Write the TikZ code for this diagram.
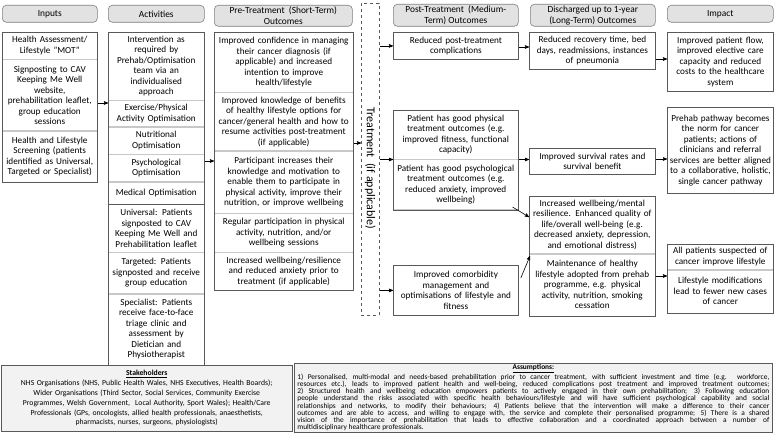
\documentclass[tikz,border=0pt]{standalone}
\usepackage{fontspec}
\setmainfont{Carlito}
\usetikzlibrary{arrows,calc}
\usetikzlibrary{positioning}
\definecolor{framegray}{HTML}{595959}
\definecolor{divgray}{HTML}{C8C8C8}
\definecolor{headfill}{HTML}{E2E2E2}
\definecolor{headline}{HTML}{808080}
\definecolor{notefill}{HTML}{F2F2F2}
\tikzset{
    cell/.style={
           rectangle,
           draw=divgray, line width=0.5pt,
           anchor=north west,
           inner xsep=0.5pt, inner ysep=1pt,
           align=center,
           font=\fontsize{9.2}{10.5}\selectfont,
           },
    box/.style={cell, draw=framegray, line width=0.8pt},
    frame/.style={draw=framegray, line width=0.8pt},
    head/.style={
           rectangle,
           rounded corners=4pt,
           draw=headline, fill=headfill, line width=0.6pt,
           anchor=north west,
           inner sep=1pt,
           align=center,
           font=\fontsize{9.4}{10.5}\selectfont,
           },
    note/.style={
           rectangle,
           draw=framegray, fill=notefill, line width=0.8pt,
           anchor=north west,
           },
    link/.style={->, line width=0.6pt},
    colinp/.style={text width=94pt},
    colact/.style={text width=95pt},
    colpre/.style={text width=138pt},
    colpost/.style={text width=124pt},
    coldis/.style={text width=125pt},
    colimp/.style={text width=105pt},
}

\begin{document}
\begin{tikzpicture}[>=stealth', x=1pt, y=-1pt]
\useasboundingbox (0,0) rectangle (777,433);

% column headings
\node[head, minimum width=95pt, minimum height=17pt] (hinp) at (2,5) {Inputs};
\node[head, minimum width=96pt, minimum height=17pt] (hact) at (108,5) {Activities};
\node[head, minimum width=138pt, minimum height=21pt] (hpre) at (214,5) {Pre-Treatment\ \ (Short-Term)\\Outcomes};
\node[head, minimum width=125pt, minimum height=22pt] (hpost) at (393,4) {Post-Treatment\ \ (Medium-\\Term) Outcomes};
\node[head, minimum width=125pt, minimum height=22pt] (hdis) at (530,4) {Discharged up to 1-year\\(Long-Term) Outcomes};
\node[head, minimum width=106pt, minimum height=17pt] (himp) at (667,5) {Impact};

% inputs
\node[cell, colinp, minimum height=27pt] (inpha) at (2,32) {Health Assessment/\\Lifestyle "MOT"};
\node[cell, colinp, minimum height=71pt, below=0pt of inpha] (inpsign) {Signposting to CAV\\Keeping Me Well\\website,\\prehabilitation leaflet,\\group education\\sessions};
\node[cell, colinp, minimum height=51pt, below=0pt of inpsign] (inpscr) {Health and Lifestyle\\Screening (patients\\identified as Universal,\\Targeted or Specialist)};
\draw[frame] (inpha.north west) rectangle (inpscr.south east);

% activities
\node[cell, colact, minimum height=68pt] (actint) at (108,32) {Intervention as\\required by\\Prehab/Optimisation\\team via an\\individualised\\approach};
\node[cell, colact, minimum height=26pt, below=0pt of actint] (actex) {Exercise/Physical\\Activity Optimisation};
\node[cell, colact, minimum height=27pt, below=0pt of actex] (actnut) {Nutritional\\Optimisation};
\node[cell, colact, minimum height=27pt, below=0pt of actnut] (actpsy) {Psychological\\Optimisation};
\node[cell, colact, minimum height=22pt, below=0pt of actpsy] (actmed) {Medical Optimisation};
\node[cell, colact, minimum height=47pt, below=0pt of actmed] (actuni) {Universal: Patients\\signposted to CAV\\Keeping Me Well and\\Prehabilitation leaflet};
\node[cell, colact, minimum height=41pt, below=0pt of actuni] (acttar) {Targeted: Patients\\signposted and receive\\group education};
\node[cell, colact, minimum height=71pt, below=0pt of acttar] (actspe) {Specialist: Patients\\receive face-to-face\\triage clinic and\\assessment by\\Dietician and\\Physiotherapist};
\draw[frame] (actint.north west) rectangle (actmed.south east);
\draw[frame] (actuni.north west) rectangle (actspe.south east);

% pre-treatment outcomes
\node[cell, colpre, minimum height=60pt] (prconf) at (214,32) {Improved confidence in managing\\their cancer diagnosis (if\\applicable) and increased\\intention to improve\\health/lifestyle};
\node[cell, colpre, minimum height=58pt, below=0pt of prconf] (prknow) {Improved knowledge of benefits\\of healthy lifestyle options for\\cancer/general health and how to\\resume activities post-treatment\\(if applicable)};
\node[cell, colpre, minimum height=62pt, below=0pt of prknow] (prpart) {Participant increases their\\knowledge and motivation to\\enable them to participate in\\physical activity, improve their\\nutrition, or improve wellbeing};
\node[cell, colpre, minimum height=38pt, below=0pt of prpart] (prreg) {Regular participation in physical\\activity, nutrition, and/or\\wellbeing sessions};
\node[cell, colpre, minimum height=38pt, below=0pt of prreg] (prwell) {Increased wellbeing/resilience\\and reduced anxiety prior to\\treatment (if applicable)};
\draw[frame] (prconf.north west) rectangle (prwell.south east);

% treatment
\node[draw=framegray, dashed, line width=0.6pt, anchor=north west, minimum width=18pt, minimum height=312pt] (treat) at (361,3) {};
\node[rotate=-90, font=\fontsize{12}{14}\selectfont] (treatlbl) at ([yshift=-9pt]treat.center) {Treatment\ \ (if applicable)};

% post-treatment outcomes
\node[box, colpost, minimum height=27pt] (potcomp) at (393,32) {Reduced post-treatment\\complications};
\node[cell, colpost, minimum height=49pt] (potphys) at (393,110) {Patient has good physical\\treatment outcomes (e.g.\\improved fitness, functional\\capacity)};
\node[cell, colpost, minimum height=50pt, below=0pt of potphys] (potpsy) {Patient has good psychological\\treatment outcomes (e.g.\\reduced anxiety, improved\\wellbeing)};
\draw[frame] (potphys.north west) rectangle (potpsy.south east);
\node[box, colpost, minimum height=50pt] (potcomo) at (393,265) {Improved comorbidity\\management and\\optimisations of lifestyle and\\fitness};

% discharged outcomes
\node[box, coldis, minimum height=37pt] (disrec) at (529,32) {Reduced recovery time, bed\\days, readmissions, instances\\of pneumonia};
\node[box, coldis, minimum height=26pt] (dissurv) at (529,148) {Improved survival rates and\\survival benefit};
\node[cell, coldis, minimum height=57pt] (diswell) at (529,196) {Increased wellbeing/mental\\resilience. Enhanced quality of\\life/overall well-being (e.g.\\decreased anxiety, depression,\\and emotional distress)};
\node[cell, coldis, minimum height=62pt, below=0pt of diswell] (dismaint) {Maintenance of healthy\\lifestyle adopted from prehab\\programme, e.g. physical\\activity, nutrition, smoking\\cessation};
\draw[frame] (diswell.north west) rectangle (dismaint.south east);

% impact
\node[box, colimp, minimum height=59pt] (impflow) at (667,32) {Improved patient flow,\\improved elective care\\capacity and reduced\\costs to the healthcare\\system};
\node[box, colimp, minimum height=86pt] (impprehab) at (667,107) {Prehab pathway becomes\\the norm for cancer\\patients; actions of\\clinicians and referral\\services are better aligned\\to a collaborative, holistic,\\single cancer pathway};
\node[cell, colimp, minimum height=25pt] (impall) at (667,244) {All patients suspected of\\cancer improve lifestyle};
\node[cell, colimp, minimum height=43pt, below=0pt of impall] (impmod) {Lifestyle modifications\\lead to fewer new cases\\of cancer};
\draw[frame] (impall.north west) rectangle (impmod.south east);

% connectors
\draw[link] (inpsign.east |- 0,103) -- (actex.west |- 0,103);
\draw[link] (actpsy.east |- 0,161) -- (prpart.west |- 0,161);
\draw[link] (prknow.east |- 0,143) -- (treat.west |- 0,143);
\draw[link] (treat.east |- potcomp.west) -- (potcomp.west);
\draw[link] (treat.east |- potphys.south west) -- (potphys.south west);
\draw[link] (treat.east |- potcomo.west) -- (potcomo.west);
\draw[link] (potcomp.east |- 0,47) -- (disrec.west |- 0,47);
\draw[link] (potphys.south east) -- (dissurv.west |- potphys.south east);
\draw[link] ([xshift=-6pt,yshift=3pt]potpsy.south east) -- (diswell.west |- 0,217);
\draw[link] ([xshift=2pt,yshift=-13pt]potcomo.north east) -- ([xshift=1pt]diswell.west |- 0,256);
\draw[link] (disrec.east |- 0,59) -- (impflow.west |- 0,59);
\draw[link] (dissurv.east |- 0,159) -- (impprehab.west |- 0,159);
\draw[link] (dismaint.east |- 0,276) -- (impall.west |- 0,276);

% stakeholders and assumptions
\node[note, text width=284pt, minimum height=66pt, align=center,
      font=\fontsize{7.7}{9.8}\selectfont] (stake) at (1,365)
      {\textbf{\underline{Stakeholders}}\\
       NHS Organisations (NHS, Public Health Wales, NHS Executives, Health Boards);\\
       Wider Organisations (Third Sector, Social Services, Community Exercise\\
       Programmes, Welsh Government,\ \ Local Authority, Sport Wales); Health/Care\\
       Professionals (GPs, oncologists, allied health professionals, anaesthetists,\\
       pharmacists, nurses, surgeons, physiologists)};
\node[note, text width=472pt, minimum height=68pt, align=justify, inner xsep=3pt, inner ysep=1pt,
      font=\fontsize{7.4}{7.25}\selectfont] (assum) at (294,363)
      {{\centering\textbf{\underline{Assumptions:}}\par}
       1) Personalised, multi-modal and needs-based prehabilitation prior to cancer treatment, with sufficient investment and time (e.g. workforce,\linebreak
       resources etc.), leads to improved patient health and well-being, reduced complications post treatment and improved treatment outcomes;\linebreak
       2) Structured health and wellbeing education empowers patients to actively engaged in their own prehabilitation; 3) Following education\linebreak
       people understand the risks associated with specific health behaviours/lifestyle and will have sufficient psychological capability and social\linebreak
       relationships and networks, to modify their behaviours; 4) Patients believe that the intervention will make a difference to their cancer\linebreak
       outcomes and are able to access, and willing to engage with, the service and complete their personalised programme; 5) There is a shared\linebreak
       vision of the importance of prehabilitation that leads to effective collaboration and a coordinated approach between a number of\linebreak
       multidisciplinary healthcare professionals.};
\end{tikzpicture}
\end{document}
